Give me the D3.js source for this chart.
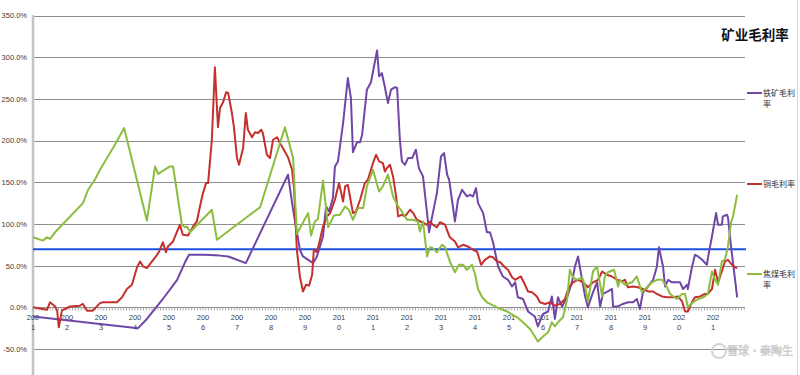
<!DOCTYPE html>
<html>
<head>
<meta charset="utf-8">
<script src="https://cdn.jsdelivr.net/npm/d3@7"></script>
<style>
  body { margin: 0; background: #fff; }
  svg { font-family: "Noto Sans CJK SC", "DejaVu Sans", sans-serif; }
</style>
</head>
<body>
<div class="canvas"></div>
<script>
// 铁矿毛利率 (years as decimal, values in %)
const ironYears = [2001.00, 2004.09, 2004.35, 2004.82, 2005.24, 2005.47, 2005.59, 2006.06, 2006.50, 2006.74, 2006.94, 2007.26,
  2008.50, 2008.65, 2008.85, 2008.94, 2009.24, 2009.35, 2009.44, 2009.53, 2009.62, 2009.71, 2009.82, 2009.88, 2009.97,
  2010.12, 2010.26, 2010.35, 2010.41, 2010.53, 2010.62, 2010.68, 2010.82, 2010.94, 2011.12, 2011.18, 2011.26, 2011.35,
  2011.44, 2011.53, 2011.65, 2011.71, 2011.79, 2011.85, 2011.94, 2012.03, 2012.15, 2012.26, 2012.35, 2012.47, 2012.59,
  2012.65, 2012.74, 2012.88, 2013.00, 2013.09, 2013.18, 2013.24, 2013.41, 2013.50, 2013.62, 2013.76, 2013.85, 2013.94,
  2014.03, 2014.09, 2014.24, 2014.35, 2014.44, 2014.53, 2014.68, 2014.82, 2014.97, 2015.09, 2015.18, 2015.26, 2015.41,
  2015.56, 2015.76, 2015.85, 2016.00, 2016.15, 2016.26, 2016.35, 2016.44, 2016.56, 2016.71, 2016.85, 2016.94, 2017.03,
  2017.15, 2017.24, 2017.32, 2017.47, 2017.59, 2017.68, 2017.76, 2017.91, 2018.03, 2018.06, 2018.21, 2018.35, 2018.50,
  2018.65, 2018.76, 2018.85, 2018.94, 2019.09, 2019.24, 2019.35, 2019.41, 2019.53, 2019.59, 2019.68, 2019.79, 2020.03,
  2020.12, 2020.24, 2020.26, 2020.38, 2020.47, 2020.56, 2020.68, 2020.82, 2020.88, 2020.97, 2021.09, 2021.15, 2021.26,
  2021.29, 2021.41, 2021.44, 2021.53, 2021.65, 2021.71]
const ironValues = [-11, -25, -14, 10, 33, 54, 63, 63, 62, 61, 58, 53,
  159, 117, 69, 61, 53, 61, 73, 85, 121, 115, 131, 169, 175,
  221, 275, 251, 186, 198, 198, 207, 261, 270, 308, 277, 281, 264,
  245, 261, 264, 263, 201, 175, 171, 179, 179, 189, 167, 157, 113,
  90, 109, 137, 181, 185, 159, 153, 103, 129, 141, 133, 135, 133,
  143, 125, 113, 90, 90, 78, 49, 37, 33, 25, 30, 12, 10,
  -5, -11, -23, -8, -5, 13, -14, 12, 1, 12, 30, 49, 61,
  33, 13, 0, 18, 30, 1, 16, 19, 22, 1, 1, 4, 6,
  6, 10, -2, 18, 25, 33, 49, 72, 49, 25, 33, 30, 30,
  22, 27, 22, 48, 63, 61, 57, 51, 66, 85, 113, 99, 99,
  109, 111, 108, 73, 33, 12]

// 铜毛利率
const copperYears = [2001.00, 2001.41, 2001.50, 2001.65, 2001.71, 2001.76, 2001.85, 2001.94, 2002.09, 2002.38, 2002.47, 2002.59,
  2002.76, 2002.97, 2003.06, 2003.47, 2003.62, 2003.76, 2003.91, 2004.06, 2004.15, 2004.24, 2004.35, 2004.50, 2004.65,
  2004.71, 2004.82, 2004.91, 2004.97, 2005.12, 2005.24, 2005.32, 2005.41, 2005.56, 2005.71, 2005.82, 2005.91, 2006.00,
  2006.09, 2006.15, 2006.26, 2006.35, 2006.44, 2006.50, 2006.59, 2006.68, 2006.74, 2006.85, 2006.91, 2007.00, 2007.06,
  2007.18, 2007.26, 2007.32, 2007.44, 2007.53, 2007.62, 2007.71, 2007.76, 2007.88, 2007.97, 2008.06, 2008.18, 2008.26,
  2008.35, 2008.50, 2008.62, 2008.68, 2008.76, 2008.85, 2008.94, 2009.03, 2009.12, 2009.21, 2009.26, 2009.35, 2009.44,
  2009.53, 2009.65, 2009.74, 2009.88, 2010.00, 2010.12, 2010.18, 2010.26, 2010.41, 2010.50, 2010.62, 2010.76, 2010.85,
  2011.00, 2011.09, 2011.18, 2011.29, 2011.35, 2011.41, 2011.50, 2011.59, 2011.68, 2011.74, 2011.85, 2011.94, 2012.09,
  2012.18, 2012.29, 2012.44, 2012.59, 2012.68, 2012.76, 2012.88, 2012.97, 2013.12, 2013.26, 2013.41, 2013.50, 2013.65,
  2013.79, 2013.94, 2014.06, 2014.18, 2014.29, 2014.44, 2014.53, 2014.65, 2014.74, 2014.88, 2014.97, 2015.09, 2015.18,
  2015.35, 2015.47, 2015.56, 2015.68, 2015.82, 2015.91, 2016.06, 2016.21, 2016.35, 2016.50, 2016.65, 2016.74, 2016.88,
  2017.03, 2017.18, 2017.32, 2017.47, 2017.62, 2017.74, 2017.88, 2018.03, 2018.18, 2018.32, 2018.41, 2018.50, 2018.65,
  2018.79, 2018.94, 2019.09, 2019.24, 2019.35, 2019.50, 2019.65, 2019.82, 2019.97, 2020.09, 2020.18, 2020.26, 2020.38,
  2020.47, 2020.62, 2020.76, 2020.85, 2020.97, 2021.06, 2021.15, 2021.26, 2021.35, 2021.44, 2021.56, 2021.65, 2021.71]
const copperValues = [0, -3, 6, 1, -4, -24, -4, -2, 1, 2, 4, -4,
  -4, 5, 6, 6, 12, 22, 27, 48, 55, 49, 47, 55, 63,
  67, 78, 66, 73, 79, 91, 99, 87, 86, 97, 103, 121, 137,
  149, 149, 201, 288, 216, 239, 246, 258, 257, 233, 216, 179, 171,
  191, 233, 213, 204, 210, 209, 213, 209, 183, 179, 201, 204, 197,
  191, 180, 165, 141, 69, 37, 19, 27, 26, 39, 69, 66, 81,
  97, 109, 113, 129, 149, 127, 145, 147, 113, 115, 129, 149, 153,
  173, 183, 175, 173, 163, 167, 171, 157, 133, 109, 111, 109, 117,
  113, 105, 102, 99, 103, 99, 96, 102, 99, 84, 79, 72, 75,
  73, 69, 67, 51, 57, 61, 60, 55, 54, 48, 45, 36, 33,
  37, 27, 19, 18, 13, 6, 4, 6, 2, 4, 10, 22, 30,
  33, 30, 24, 30, 33, 43, 39, 37, 33, 31, 33, 24, 25,
  24, 22, 19, 19, 16, 13, 12, 12, 13, 7, -5, -5, 6,
  12, 13, 16, 16, 22, 45, 30, 43, 55, 57, 51, 48, 47]

// 焦煤毛利率
const coalYears = [2001.00, 2001.29, 2001.41, 2001.50, 2001.65, 2002.00, 2002.47, 2002.62, 2002.82, 2002.97, 2003.41, 2003.68,
  2004.35, 2004.59, 2004.68, 2005.03, 2005.12, 2005.38, 2005.47, 2005.53, 2005.62, 2005.76, 2006.26, 2006.41, 2007.09,
  2007.68, 2008.41, 2008.65, 2008.76, 2009.09, 2009.18, 2009.29, 2009.38, 2009.53, 2009.68, 2009.85, 2010.03, 2010.18,
  2010.29, 2010.41, 2010.56, 2010.71, 2010.82, 2011.00, 2011.18, 2011.29, 2011.44, 2011.59, 2011.74, 2011.85, 2012.00,
  2012.18, 2012.32, 2012.38, 2012.47, 2012.59, 2012.68, 2012.76, 2012.88, 2013.03, 2013.12, 2013.26, 2013.41, 2013.53,
  2013.65, 2013.76, 2013.91, 2014.00, 2014.09, 2014.21, 2014.35, 2014.65, 2014.94, 2015.24, 2015.41, 2015.62, 2015.76,
  2015.85, 2016.00, 2016.15, 2016.26, 2016.35, 2016.44, 2016.59, 2016.71, 2016.79, 2016.88, 2017.00, 2017.15, 2017.24,
  2017.32, 2017.47, 2017.59, 2017.74, 2017.82, 2017.91, 2018.09, 2018.21, 2018.26, 2018.41, 2018.62, 2018.76, 2018.91,
  2019.06, 2019.21, 2019.35, 2019.50, 2019.65, 2019.74, 2019.94, 2020.09, 2020.18, 2020.26, 2020.41, 2020.56, 2020.71,
  2020.85, 2020.97, 2021.06, 2021.15, 2021.26, 2021.35, 2021.44, 2021.53, 2021.59, 2021.71]
const coalValues = [84, 80, 84, 82, 90, 105, 125, 141, 153, 165, 195, 215,
  104, 169, 160, 169, 169, 99, 96, 97, 90, 96, 117, 81, 102,
  120, 216, 179, 88, 113, 86, 103, 106, 152, 96, 110, 111, 121,
  117, 105, 119, 119, 145, 165, 139, 145, 159, 133, 121, 115, 105,
  105, 103, 91, 103, 61, 72, 71, 66, 75, 72, 55, 42, 51,
  51, 45, 51, 40, 22, 12, 6, 0, -5, -12, -18, -26, -35,
  -41, -35, -30, -18, -23, -18, -12, 10, 45, 36, 33, 36, 25,
  7, 43, 49, 13, 37, 42, 45, 25, 33, 27, 30, 37, 18,
  24, 30, 33, 33, 24, 16, 10, 16, 16, 0, 6, 10, 12,
  16, 43, 33, 27, 55, 57, 73, 102, 109, 135]

const refLine = 69.5
const yTicks = [-50, 0, 50, 100, 150, 200, 250, 300, 350]
const xYears = d3.range(2001, 2022)

const series = [
  {name: ['铁矿毛利', '率'], years: ironYears, values: ironValues, color: '#7046a6', ly: 93},
  {name: ['铜毛利率'], years: copperYears, values: copperValues, color: '#c4302d', ly: 184},
  {name: ['焦煤毛利', '率'], years: coalYears, values: coalValues, color: '#8cbd3f', ly: 274}
]

const svg = d3.select('.canvas')
  .append('svg')
  .attr('width', 800)
  .attr('height', 375)

const x = d3.scaleLinear().domain([2001, 2022]).range([33, 747])
const y = d3.scaleLinear().domain([-50, 350]).range([349, 15.5])

// gridlines
svg.append('g')
  .selectAll('line')
  .data(yTicks)
  .enter().append('line')
  .attr('x1', 33).attr('x2', 745)
  .attr('y1', d => Math.round(y(d)) + 0.5)
  .attr('y2', d => Math.round(y(d)) + 0.5)
  .attr('stroke', '#8e8e8e')
  .attr('stroke-width', 1)

// y axis
const yAxis = d3.axisLeft(y).tickValues(yTicks).tickSize(0).tickPadding(6)
  .tickFormat(d => d.toFixed(1) + '%')
const yAxisGroup = svg.append('g').attr('transform', 'translate(33,0)').call(yAxis)
yAxisGroup.select('.domain').remove()
yAxisGroup.selectAll('text').attr('font-size', 7.5).attr('fill', '#404040')
  .attr('font-family', 'Liberation Sans, Arial, sans-serif')

svg.append('line')
  .attr('x1', 33).attr('x2', 33).attr('y1', 15).attr('y2', 375)
  .attr('stroke', '#c3c3c3').attr('stroke-width', 2.5)

// x axis with monthly ticks
const months = d3.range(0, 21 * 12 + 1).map(m => 2001 + m / 12)
const xAxisGroup = svg.append('g').attr('transform', `translate(0, ${Math.round(y(0)) + 0.5})`)
xAxisGroup.append('line')
  .attr('x1', 33).attr('x2', 745)
  .attr('stroke', '#8e8e8e')
xAxisGroup.selectAll('.mtick')
  .data(months.filter(m => x(m) <= 745))
  .enter().append('line')
  .attr('class', 'mtick')
  .attr('x1', d => x(d)).attr('x2', d => x(d))
  .attr('y1', 0).attr('y2', 3)
  .attr('stroke', '#9a9a9a').attr('stroke-width', 0.8)

const xl = xAxisGroup.selectAll('.xl')
  .data(xYears)
  .enter().append('text')
  .attr('class', 'xl')
  .attr('text-anchor', 'middle')
  .attr('font-size', 7.5)
  .attr('fill', '#404040')
  .attr('font-family', 'Liberation Sans, Arial, sans-serif')
xl.append('tspan').attr('x', d => x(d)).attr('y', 12).text(d => String(d).slice(0, 3))
xl.append('tspan').attr('x', d => x(d)).attr('y', 22).text(d => String(d).slice(3))

// reference line
svg.append('line')
  .attr('x1', 33).attr('x2', 746)
  .attr('y1', y(refLine)).attr('y2', y(refLine))
  .attr('stroke', '#1f4fe0').attr('stroke-width', 2)

// series lines
const line = d3.line()
  .x(d => x(d[0]))
  .y(d => y(d[1]))

series.forEach(s => {
  svg.append('path')
    .datum(s.years.map((yr, i) => [yr, s.values[i]]))
    .attr('d', line)
    .attr('fill', 'none')
    .attr('stroke', s.color)
    .attr('stroke-width', 2)
    .attr('stroke-linejoin', 'round')
})

// legend
series.forEach(s => {
  const g = svg.append('g').attr('transform', `translate(747, ${s.ly})`)
  g.append('line').attr('x1', 0).attr('x2', 15).attr('stroke', s.color).attr('stroke-width', 2)
  const t = g.append('text').attr('font-size', 8).attr('fill', '#333')
  s.name.forEach((n, i) => {
    t.append('tspan').attr('x', 16).attr('y', 3 + i * 11).text(n)
  })
})

// title
svg.append('text')
  .attr('x', 755).attr('y', 40)
  .attr('text-anchor', 'middle')
  .attr('font-size', 13.5)
  .attr('font-weight', 'bold')
  .attr('fill', '#111')
  .text('矿业毛利率')

// right border
svg.append('line')
  .attr('x1', 797.5).attr('x2', 797.5).attr('y1', 0).attr('y2', 375)
  .attr('stroke', '#d9d9d9')

// watermark
svg.append('circle')
  .attr('cx', 719).attr('cy', 351).attr('r', 7)
  .attr('fill', 'none').attr('stroke', '#d4d4d4').attr('stroke-width', 2)
svg.append('text')
  .attr('x', 793).attr('y', 355)
  .attr('text-anchor', 'end')
  .attr('font-size', 11)
  .attr('fill', '#e2e2e2')
  .attr('stroke', '#c8c8c8').attr('stroke-width', 0.5)
  .text('雪球·秦陶生')
</script>
</body>
</html>
